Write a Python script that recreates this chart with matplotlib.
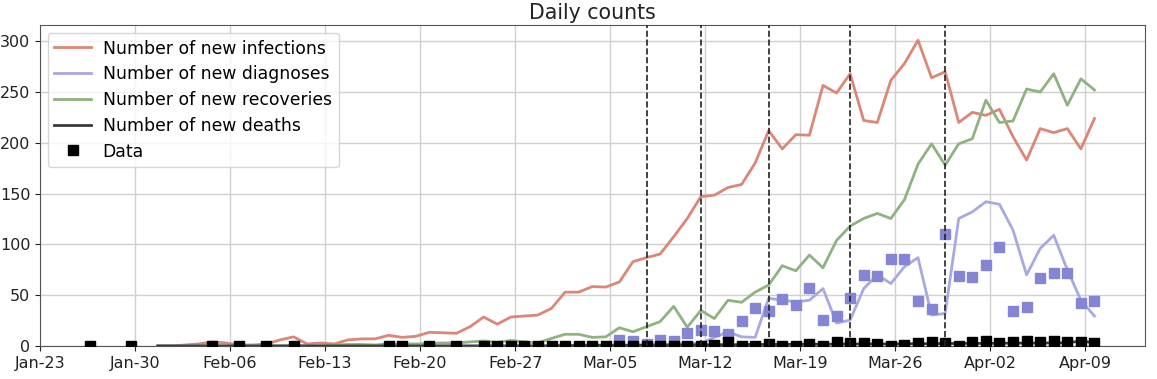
import numpy as np
import matplotlib
matplotlib.use("Agg")
import matplotlib.pyplot as plt

# ---- data (day index: 0 = Jan-23) ----
tick_days = [0, 7, 14, 21, 28, 35, 42, 49, 56, 63, 70, 77]
tick_labels = ["Jan-23", "Jan-30", "Feb-06", "Feb-13", "Feb-20", "Feb-27",
               "Mar-05", "Mar-12", "Mar-19", "Mar-26", "Apr-02", "Apr-09"]

model_start_day = 9  # Feb-01, model curves run to Apr-10
infections = [0, 0, 1, 2, 4, 3, 1, 1, 2, 6, 9, 2, 3, 2, 6, 7, 7, 10.5, 8.5, 9.5,
              13.5, 13, 12.5, 19, 28.5, 21.5, 28.5, 29.5, 30.5, 37, 53, 53, 58.5, 58, 63, 83,
              87, 90.5, 107.5, 125.5, 147, 148.5, 156, 159, 180, 212, 194, 208, 207.5, 256.5,
              249, 268, 222, 220, 261.5, 278, 301, 264, 270, 220, 230, 227, 233, 206,
              183, 214, 210, 214, 194, 224]
diagnoses = ([0] * 29
             + [0.5, 0.5, 1, 1, 1, 1, 1, 1, 1, 1.5]
             + [2.5, 2.5, 8.5, 14, 9, 8.5, 47, 45, 43.5, 45, 56.5, 22.5, 25.5,
                56.5, 70, 61.5, 78, 87, 30.5, 32, 125.5, 132, 142, 139.5, 114, 70, 96, 109,
                75, 45, 29.5])
recoveries = ([0] * 13
              + [1, 1.5, 1.5, 1, 2, 2, 2, 2.5, 3, 3, 4, 5, 3.5, 5.5, 4, 3]
              + [7.5, 11.5, 11.5, 8.5, 9, 18, 14, 19, 24, 39]
              + [18.5, 35, 27, 45, 43, 53, 60]
              + [79, 74, 89.5, 77, 104, 118, 125.5, 130.5, 125.5, 144, 179, 199, 178, 199]
              + [204, 242, 220, 221.5, 253, 250, 268, 237, 263, 252])
deaths = ([0] * 30
          + [0.3, 0.3, 0.5, 0.5, 0.5, 0.7, 0.8, 1, 1, 1, 1.2, 1.2, 1.3, 1.3,
             1.5, 1.5, 1.5, 1.6, 1.7, 1.8, 1.8, 2, 2, 2, 2, 2.2, 2.2, 2.3, 2.4, 2.5, 2.5,
             2.6, 2.7, 2.8, 2.8, 2.9, 3, 3, 5, 3])

diag_data_days = list(range(43, 79))
diag_data = [6, 5, 2, 6, 5, 13, 16, 15, 12, 25, 37, 34, 46, 40, 57, 26, 30, 47, 70, 69,
             86, 86, 44, 36, 110, 69, 68, 80, 97, 34, 38, 67, 72, 72, 42, 44]

death_data_days = [4, 7, 13, 15, 17, 19, 26, 27, 29, 31] + list(range(33, 79))
death_data = ([0] * 10
              + [0] * 13
              + [0, 0, 0, 0, 1, 4, 0, 0, 2, 0, 0, 2, 0]
              + [4, 2.5, 2.5, 2, 0, 1, 2.5, 4, 2.5, 0, 4, 5, 3, 4, 5, 4, 5, 4, 4, 3])

event_days = [45, 49, 54, 60, 67]

# ---- plot ----
OFFSET = -0.32
fig = plt.figure(figsize=(11.57, 3.79), dpi=100)
ax = fig.add_axes([0.0346, 0.0871, 0.955, 0.847])

days_model = np.arange(model_start_day, model_start_day + len(infections)) + OFFSET
lw = 2.0
ax.plot(days_model, infections, color="#dc8676", lw=lw, label="Number of new infections", zorder=2)
ax.plot(days_model, diagnoses, color="#a8a8e2", lw=lw, label="Number of new diagnoses", zorder=2)
ax.plot(days_model, recoveries, color="#8fb37e", lw=lw, label="Number of new recoveries", zorder=2)
ax.plot(days_model, deaths, color="#3a3a3a", lw=lw, label="Number of new deaths", zorder=2)

ax.plot(np.array(diag_data_days) + OFFSET, diag_data, ls="none", marker="s", ms=7,
        color="#8585d6", zorder=3)
ax.plot(np.array(death_data_days) + OFFSET, death_data, ls="none", marker="s", ms=7,
        color="black", zorder=3, label="Data")

for d in event_days:
    ax.axvline(d + OFFSET, color="#222222", ls="--", lw=1.2, zorder=4)

ax.set_xlim(0, 81.4)
ax.set_ylim(0, 316)
ax.set_xticks(tick_days)
ax.set_xticklabels(tick_labels)
ax.set_yticks([0, 50, 100, 150, 200, 250, 300])
ax.tick_params(labelsize=11.5, colors="#222222")
ax.grid(True, color="#d0d0d0", lw=1)
ax.set_axisbelow(True)
for s in ax.spines.values():
    s.set_color("#555555")
ax.set_title("Daily counts", fontsize=14.8, pad=4, color="#222222")
ax.legend(loc="upper left", fontsize=12.4, frameon=True, borderpad=0.4,
          labelspacing=0.45, handlelength=2.1, handletextpad=0.7,
          bbox_to_anchor=(-0.001, 1.003))

fig.savefig("out.png", dpi=100)
